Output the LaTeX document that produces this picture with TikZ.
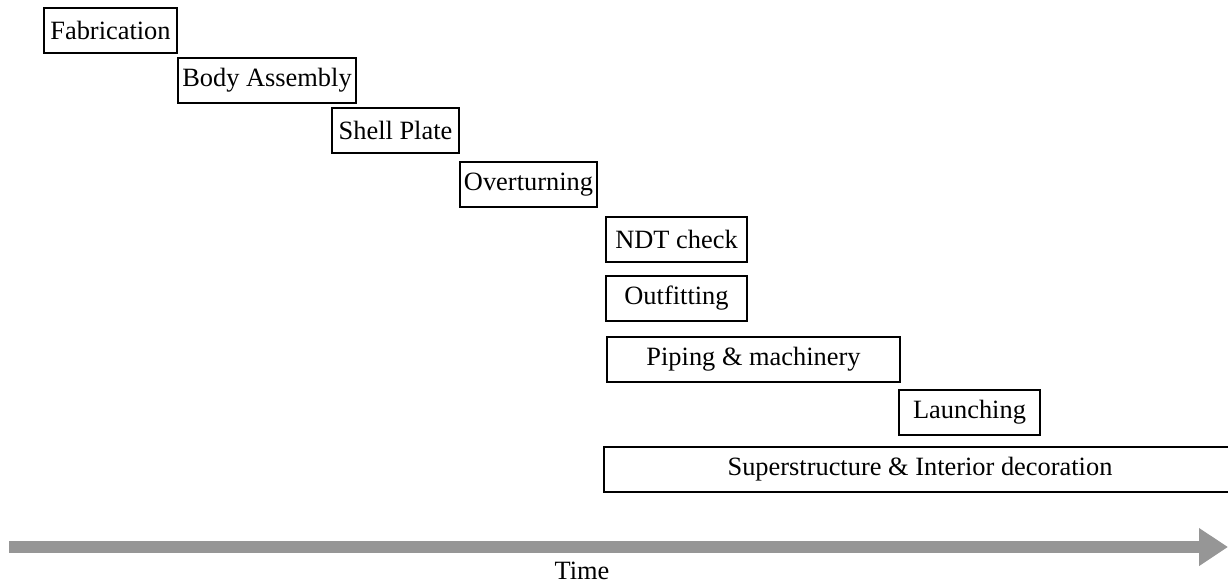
\documentclass[tikz,border=0pt]{standalone}
\usepackage{fontspec}
\setmainfont{Liberation Serif}
\usepackage{xcolor}
\usepackage{tikz}
\usetikzlibrary{
  positioning,
  arrows.meta
}

\definecolor{timegray}{RGB}{150,150,150}

\begin{document}
\begin{tikzpicture}[
  x=0.5pt, y=-0.5pt,
  font=\fontsize{13.2}{16}\selectfont,
  task/.style={
    rectangle,
    draw=black,
    line width=0.8pt,
    minimum height=22.5pt,
    inner sep=1pt,
    outer sep=0pt,
    anchor=north west,
    align=center
  },
  timearrow/.style={
    -{Triangle[length=14.5pt, width=18pt]},
    line width=6pt,
    draw=timegray
  }
]
\useasboundingbox (0,0) rectangle (1228,585);

\node[task, minimum width=66.5pt] (fab) at (44,8) {Fabrication};
\node[task, minimum width=89pt] (body) at (178,58) {Body Assembly};
\node[task, minimum width=63.5pt] (shell) at (332,108) {Shell Plate};
\node[task, minimum width=68.5pt] (over) at (460,162) {Overturning};
\node[task, minimum width=70.5pt] (ndt) at (606,217) {NDT check};
\node[task, minimum width=70.5pt] (outfit) at (606,276) {Outfitting};
\node[task, minimum width=146.5pt] (piping) at (607,337) {Piping \& machinery};
\node[task, minimum width=70.5pt] (launch) at (899,390) {Launching};
\node[task, minimum width=316pt] (super) at (604,447) {Superstructure \& Interior decoration};

\coordinate (tstart) at (9,547);
\coordinate (tend) at (1228,547);
\draw[timearrow] (tstart) -- (tend);
\node (time) at (582,571) {Time};

\end{tikzpicture}
\end{document}
